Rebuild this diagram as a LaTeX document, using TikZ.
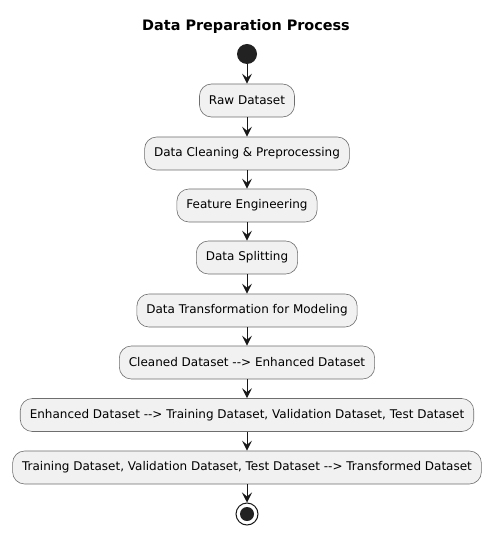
\documentclass[tikz,border=0pt]{standalone}
\usepackage{fontspec}
\setmainfont{DejaVu Sans}
\usetikzlibrary{arrows.meta}
\definecolor{boxfill}{HTML}{F1F1F1}
\definecolor{boxline}{HTML}{181818}
\definecolor{boxedge}{HTML}{6E6E6E}
\definecolor{dotfill}{HTML}{222222}
\newcommand{\darr}{{-}{-}>}
\tikzset{
  actbox/.style={draw=boxedge, line width=0.6pt, fill=boxfill, rounded corners=12pt,
    minimum height=33pt, inner xsep=9.5pt, font=\fontsize{12}{14}\selectfont, anchor=center},
  flow/.style={draw=boxline, line width=0.9pt, -{Stealth[length=10pt,width=10pt,inset=4pt]}}
}
\begin{document}
\begin{tikzpicture}[x=1pt,y=-1pt]
\useasboundingbox (0,0) rectangle (493,534);
\fill[white] (0,0) rectangle (493,534);
\node[font=\bfseries\fontsize{14.4}{16}\selectfont] (title) at (246,27) {Data Preparation Process};
\node[circle, fill=dotfill, minimum size=20pt, inner sep=0pt] (start) at (247,54) {};
\node[actbox] (a1) at (247,100.5) {Raw Dataset};
\node[actbox] (a2) at (247,153.5) {Data Cleaning \& Preprocessing};
\node[actbox] (a3) at (247,205.5) {Feature Engineering};
\node[actbox] (a4) at (247,257.5) {Data Splitting};
\node[actbox] (a5) at (247,310.5) {Data Transformation for Modeling};
\node[actbox] (a6) at (247,362.5) {Cleaned Dataset \darr{} Enhanced Dataset};
\node[actbox] (a7) at (247,415) {Enhanced Dataset \darr{} Training Dataset, Validation Dataset, Test Dataset};
\node[actbox] (a8) at (247,467.5) {Training Dataset, Validation Dataset, Test Dataset \darr{} Transformed Dataset};
\node[circle, draw=boxline, line width=1pt, fill=white, minimum size=22pt, inner sep=0pt] (stop) at (247,514) {};
\node[circle, fill=dotfill, minimum size=14pt, inner sep=0pt] (stopdot) at (stop.center) {};
\draw[flow] (start) -- (a1);
\draw[flow] (a1) -- (a2);
\draw[flow] (a2) -- (a3);
\draw[flow] (a3) -- (a4);
\draw[flow] (a4) -- (a5);
\draw[flow] (a5) -- (a6);
\draw[flow] (a6) -- (a7);
\draw[flow] (a7) -- (a8);
\draw[flow] (a8) -- (stop);
\end{tikzpicture}
\end{document}
